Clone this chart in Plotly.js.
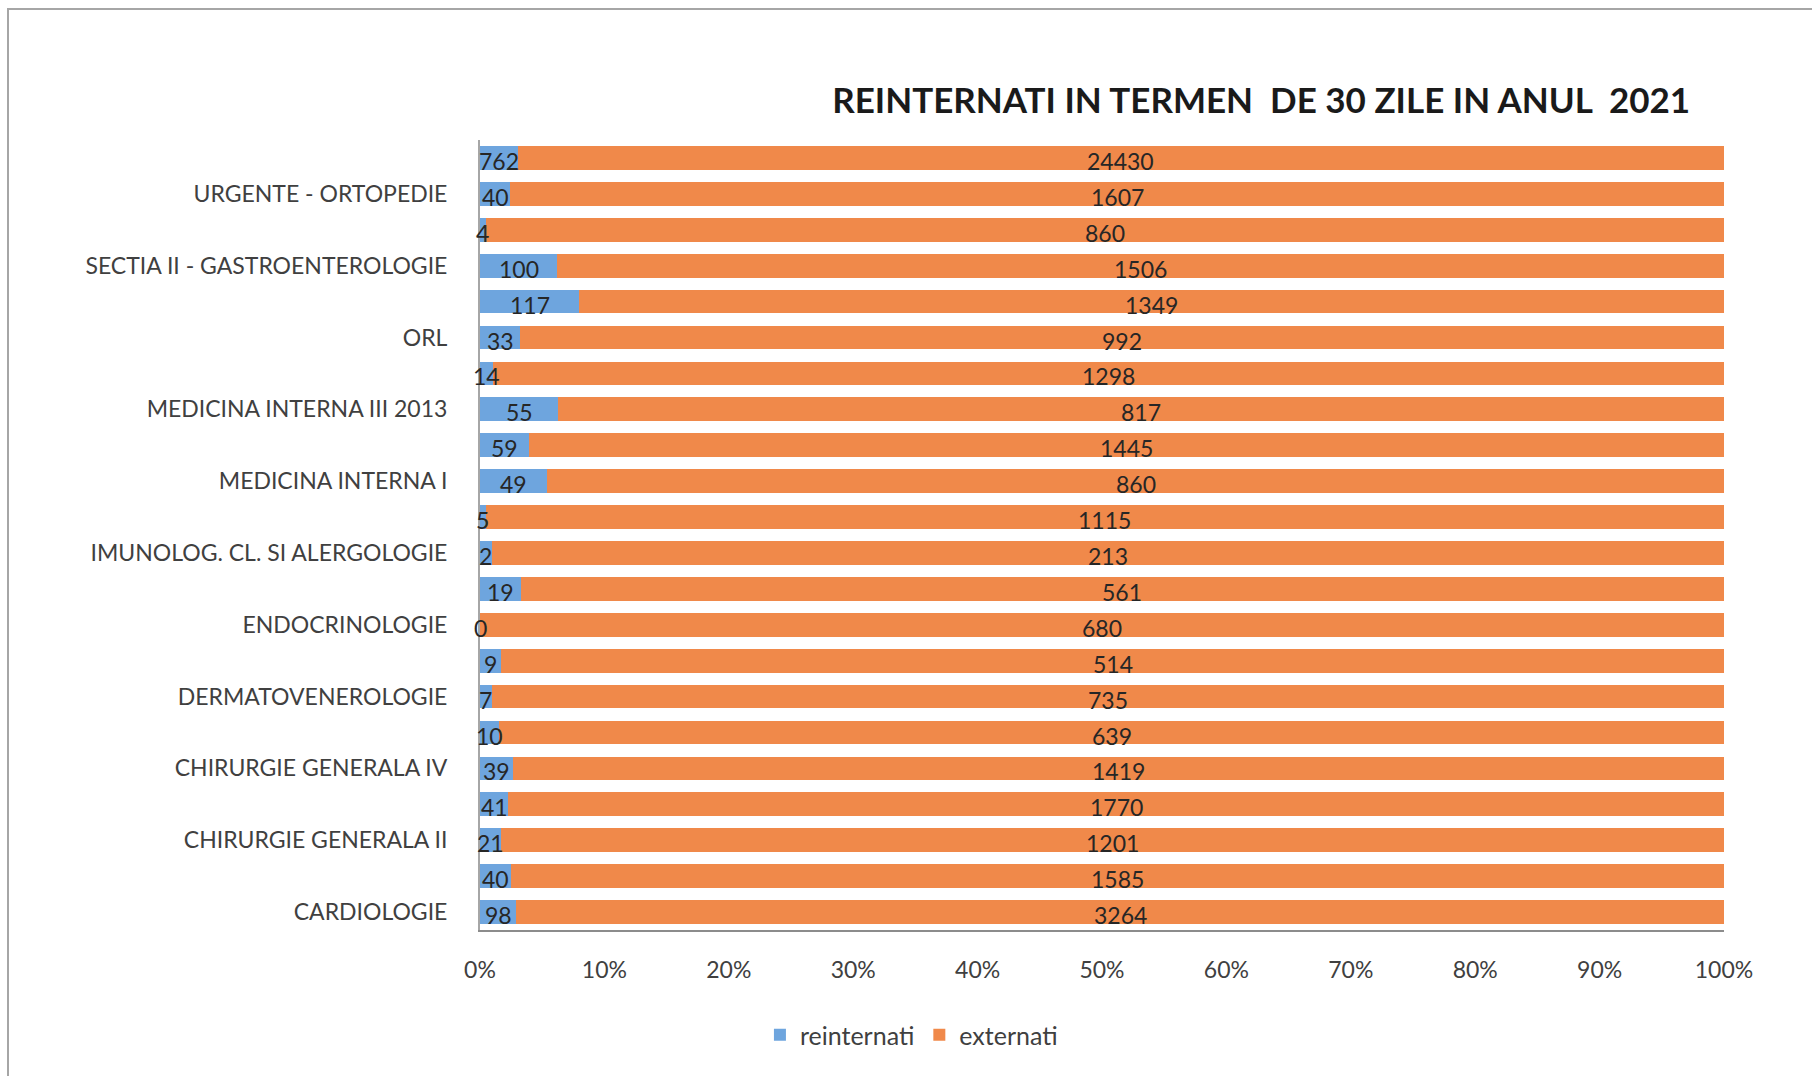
<!DOCTYPE html>
<html>
<head>
<meta charset="utf-8">
<script src="https://cdn.plot.ly/plotly-3.0.1.min.js"></script>
<style>
  html, body { margin: 0; padding: 0; background: #ffffff; }
  #wrap { position: relative; width: 1812px; height: 1076px; }
  #chart { width: 1812px; height: 1076px; }
  #frame { position: absolute; left: 7px; top: 8px; width: 1820px; height: 1090px;
           border-left: 2px solid #a6a6a6; border-top: 2px solid #a6a6a6; pointer-events: none; }
</style>
</head>
<body>
<div id="wrap">
  <div id="chart"></div>
  <div id="frame"></div>
</div>
<script>
// Categories from bottom to top (unlabeled categories left blank, as in the reference)
const departments = [
  "CARDIOLOGIE", "",
  "CHIRURGIE GENERALA II", "",
  "CHIRURGIE GENERALA IV", "",
  "DERMATOVENEROLOGIE", "",
  "ENDOCRINOLOGIE", "",
  "IMUNOLOG. CL. SI ALERGOLOGIE", "",
  "MEDICINA INTERNA I", "",
  "MEDICINA INTERNA III 2013", "",
  "ORL", "",
  "SECTIA II - GASTROENTEROLOGIE", "",
  "URGENTE - ORTOPEDIE", ""
];
const reinternati = [98, 40, 21, 41, 39, 10, 7, 9, 0, 19, 2, 5, 49, 59, 55, 14, 33, 117, 100, 4, 40, 762];
const externati = [3264, 1585, 1201, 1770, 1419, 639, 735, 514, 680, 561, 213, 1115, 860, 1445, 817, 1298, 992, 1349, 1506, 860, 1607, 24430];
const xTickVals = [0, 10, 20, 30, 40, 50, 60, 70, 80, 90, 100];
const xTickText = ["0%", "10%", "20%", "30%", "40%", "50%", "60%", "70%", "80%", "90%", "100%"];
const chartTitle = "REINTERNATI IN TERMEN  DE 30 ZILE IN ANUL  2021";

const yPos = departments.map((d, i) => i);
const labelIdx = yPos.filter(i => departments[i] !== "");

const FONT = "Lato, 'Open Sans', sans-serif";
const labelFont = { family: FONT, size: 23, color: "#262626" };

const traces = [
  {
    type: "bar", orientation: "h", name: "reinternati",
    y: yPos, x: reinternati,
    marker: { color: "#6ea5de", line: { width: 0 } }
  },
  {
    type: "bar", orientation: "h", name: "externati",
    y: yPos, x: externati,
    marker: { color: "#f0894a", line: { width: 0 } }
  }
];

// Data labels: centred in each segment of the 100% stacked bar (values from the arrays)
const annotations = [];
yPos.forEach(i => {
  const tot = reinternati[i] + externati[i];
  const share = reinternati[i] / tot * 100;
  annotations.push({
    x: share / 2, y: i, xref: "x", yref: "y",
    text: String(reinternati[i]), showarrow: false,
    xanchor: "center", yanchor: "middle", yshift: -3,
    font: labelFont
  });
  annotations.push({
    x: (share + 100) / 2, y: i, xref: "x", yref: "y",
    text: String(externati[i]), showarrow: false,
    xanchor: "center", yanchor: "middle", yshift: -3,
    font: labelFont
  });
});

const layout = {
  width: 1812,
  height: 1076,
  paper_bgcolor: "#ffffff",
  plot_bgcolor: "#ffffff",
  barmode: "stack",
  barnorm: "percent",
  bargap: 0.34,
  margin: { l: 480, r: 88, t: 140, b: 146 },
  font: { family: FONT, size: 23, color: "#404040" },
  title: {
    text: "<b>" + chartTitle + "</b>",
    font: { family: FONT, size: 35, color: "#1a1a1a" },
    xref: "container", yref: "container",
    x: 0.696, xanchor: "center",
    y: 0.906, yanchor: "middle"
  },
  xaxis: {
    range: [0, 100],
    tickvals: xTickVals,
    ticktext: xTickText,
    showgrid: false,
    zeroline: false,
    showline: true,
    linecolor: "#8c8c8c",
    linewidth: 2,
    ticks: "",
    ticklabelstandoff: 18,
    tickfont: { family: FONT, size: 23, color: "#404040" },
    fixedrange: true
  },
  yaxis: {
    range: [-0.5, 21.5],
    tickvals: labelIdx,
    ticktext: labelIdx.map(i => departments[i]),
    showgrid: false,
    zeroline: false,
    showline: true,
    linecolor: "#a6a6a6",
    linewidth: 2,
    ticks: "",
    ticklabelstandoff: 26,
    tickfont: { family: FONT, size: 23, color: "#404040" },
    fixedrange: true
  },
  annotations: annotations,
  showlegend: true,
  legend: {
    orientation: "h",
    xref: "container", yref: "container",
    x: 0.503, xanchor: "center",
    y: 1 - 1035 / 1076, yanchor: "middle",
    font: { family: FONT, size: 25, color: "#404040" },
    itemwidth: 30,
    traceorder: "normal"
  }
};

Plotly.newPlot("chart", traces, layout, { displayModeBar: false, staticPlot: true });
</script>
</body>
</html>
